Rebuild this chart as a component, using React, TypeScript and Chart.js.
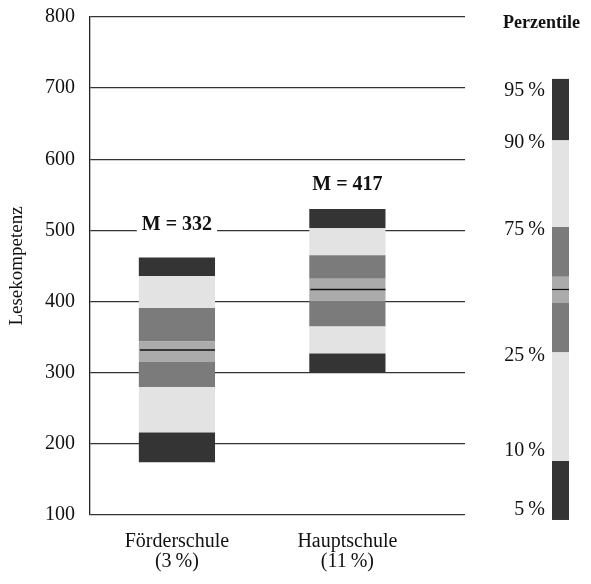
import React, { useEffect, useRef } from "react";
import { Chart, registerables } from "chart.js";

Chart.register(...registerables);

// ---- data ----
const categories = ["Förderschule", "Hauptschule"];
const shares = ["(3\u2009%)", "(11\u2009%)"];
const p5 = [174, 301];
const p10 = [216, 327];
const p25 = [280, 365];
const ciLow = [315, 401];
const means = [332, 417];
const ciHigh = [344, 432];
const p75 = [391, 465];
const p90 = [436, 503];
const p95 = [462, 530];
const meanLabelAt = [508, 564];

const yTicks = [100, 200, 300, 400, 500, 600, 700, 800];

// legend strip (drawn against the same value axis)
const legendLabels = ["5\u2009%", "10\u2009%", "25\u2009%", "75\u2009%", "90\u2009%", "95\u2009%"];
const legendBounds = [93, 176, 329, 398, 417, 435, 505, 627, 713]; // p5,p10,p25,ciLo,mean,ciHi,p75,p90,p95

const DARK = "#343434";
const LIGHT = "#e3e3e3";
const MID = "#7b7b7b";
const CI = "#ababab";
const FONT = "'Liberation Serif', 'DejaVu Serif', serif";

export default function App() {
  const ref = useRef<HTMLCanvasElement | null>(null);

  useEffect(() => {
    if (!ref.current) return;
    document.body.style.margin = "0";
    const segs: [number[], number[], string][] = [
      [p5, p10, DARK],
      [p10, p25, LIGHT],
      [p25, ciLow, MID],
      [ciLow, ciHigh, CI],
      [ciHigh, p75, MID],
      [p75, p90, LIGHT],
      [p90, p95, DARK],
    ];
    const datasets = segs.map(([lo, hi, c]) => ({
      type: "bar" as const,
      data: categories.map((_, i) => ({ x: i + 1, y: [lo[i], hi[i]] })),
      backgroundColor: c,
      borderWidth: 0,
      grouped: false,
      categoryPercentage: 1,
      barPercentage: 0.447,
    }));

    const overlay = {
      id: "overlay",
      afterDatasetsDraw(chart: any) {
        const ctx = chart.ctx;
        const ys = chart.scales.y;
        const meta = chart.getDatasetMeta(0);
        ctx.save();
        // mean lines and labels
        categories.forEach((_, i) => {
          const el = meta.data[i];
          const left = el.x - el.width / 2;
          const right = el.x + el.width / 2;
          const my = ys.getPixelForValue(means[i]);
          ctx.strokeStyle = "#111";
          ctx.lineWidth = 1.5;
          ctx.beginPath();
          ctx.moveTo(left + 1, my);
          ctx.lineTo(right, my);
          ctx.stroke();
          ctx.font = `bold 20px ${FONT}`;
          const txt = `M = ${means[i]}`;
          const w = ctx.measureText(txt).width;
          const ly = ys.getPixelForValue(meanLabelAt[i]);
          ctx.fillStyle = "#fff";
          ctx.fillRect(el.x - w / 2 - 5, ly - 10, w + 10, 20);
          ctx.fillStyle = "#111";
          ctx.textAlign = "center";
          ctx.textBaseline = "middle";
          ctx.fillText(txt, el.x, ly);
        });
        // legend strip
        const a = chart.chartArea;
        const lx = a.right + 87;
        const lw = 17;
        const cols = [DARK, LIGHT, MID, CI, CI, MID, LIGHT, DARK];
        for (let k = 0; k < legendBounds.length - 1; k++) {
          const y1 = ys.getPixelForValue(legendBounds[k]);
          const y2 = ys.getPixelForValue(legendBounds[k + 1]);
          ctx.fillStyle = cols[k];
          ctx.fillRect(lx, y2, lw, y1 - y2);
        }
        const mly = ys.getPixelForValue(legendBounds[4]);
        ctx.strokeStyle = "#111";
        ctx.lineWidth = 1.2;
        ctx.beginPath();
        ctx.moveTo(lx, mly);
        ctx.lineTo(lx + lw, mly);
        ctx.stroke();
        const labelIdx = [0, 1, 2, 6, 7, 8];
        const baselines = ["bottom", "bottom", "middle", "middle", "middle", "top"];
        const nudge = [0, 0, 4, 3, 3, 2];
        ctx.fillStyle = "#111";
        ctx.font = `20px ${FONT}`;
        ctx.textAlign = "right";
        legendLabels.forEach((t, k) => {
          const y = ys.getPixelForValue(legendBounds[labelIdx[k]]);
          ctx.textBaseline = baselines[k];
          ctx.fillText(t, lx - 7, y + nudge[k]);
        });
        ctx.font = `bold 18px ${FONT}`;
        ctx.textAlign = "left";
        ctx.textBaseline = "top";
        ctx.fillText("Perzentile", a.right + 38, 14);
        ctx.restore();
      },
    };

    const chart = new Chart(ref.current, {
      type: "bar",
      data: { datasets },
      plugins: [overlay],
      options: {
        animation: false,
        responsive: false,
        layout: { padding: { right: 126, top: 17, left: 0, bottom: 0 } },
        plugins: { legend: { display: false }, tooltip: { enabled: false } },
        scales: {
          x: {
            type: "linear",
            offset: false,
            min: 0.49,
            max: 2.69,
            afterBuildTicks: (axis: any) => {
              axis.ticks = categories.map((_, i) => ({ value: i + 1 }));
            },
            afterFit: (axis: any) => {
              axis.height = 69;
              axis.paddingLeft = 0;
              axis.paddingRight = 0;
            },
            grid: { display: false, drawTicks: false },
            border: { display: false },
            ticks: {
              autoSkip: false,
              maxRotation: 0,
              padding: 17,
              color: "#111",
              font: { family: FONT, size: 20, lineHeight: 1.0 },
              callback: (v: any) => {
                const i = Math.round(Number(v)) - 1;
                return [categories[i], shares[i]];
              },
            },
          },
          y: {
            min: 100,
            max: 800,
            afterBuildTicks: (axis: any) => {
              axis.ticks = yTicks.map((v) => ({ value: v }));
            },
            afterFit: (axis: any) => {
              axis.width = 90;
              axis.paddingTop = 0;
              axis.paddingBottom = 0;
            },
            grid: { color: "#333", lineWidth: 1.3, drawTicks: false },
            border: { display: true, color: "#222", width: 1.3 },
            ticks: {
              padding: 15,
              color: "#111",
              font: { family: FONT, size: 20 },
            },
            title: {
              display: true,
              text: "Lesekompetenz",
              color: "#111",
              font: { family: FONT, size: 19 },
              padding: { top: 6, bottom: 4 },
            },
          },
        },
      },
    } as any);
    return () => chart.destroy();
  }, []);

  return (
    <div style={{ width: 591, height: 584 }}>
      <canvas ref={ref} width={591} height={584} style={{ display: "block" }} />
    </div>
  );
}
